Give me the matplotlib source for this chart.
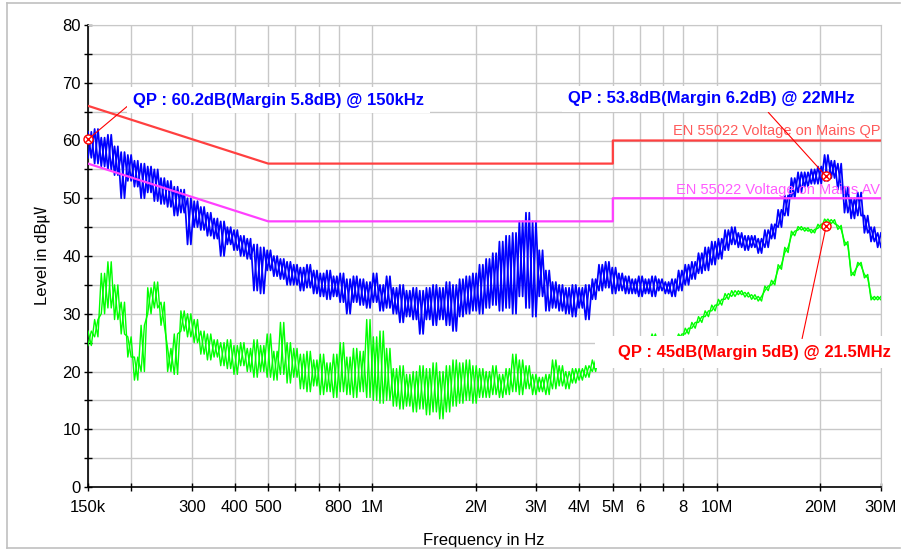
"""Conducted emission scan vs EN 55022 mains limits"""
import numpy as np
import matplotlib
matplotlib.use('Agg')
import matplotlib.pyplot as plt
from matplotlib.lines import Line2D
from matplotlib.patches import Rectangle

plt.rcParams['font.family'] = ['Liberation Sans', 'Noto Sans CJK KR']

# limit lines (EN 55022 class B, mains)
limit_freq = [0.15e6, 0.5e6, 5e6, 5e6, 30e6]
limit_qp = [66, 56, 56, 60, 60]
limit_av = [56, 46, 46, 50, 50]

# measured traces, upper / lower edge of the noise band read per slot
# (120 slots evenly spaced in log f from 150 kHz to 30 MHz)
qp_hi = [61.5, 62, 60.5, 61, 59, 58, 57.5, 56.5, 56, 55.5,
         55, 53.5, 53, 52, 51.5, 50, 49.5, 48.5, 47.5, 46.5,
         46, 45, 44.5, 43.5, 43, 42, 41.5, 41, 40, 39.5,
         39, 38.5, 38, 38.5, 37.5, 37, 37.5, 36.5, 37, 36,
         36.5, 36, 35.5, 37, 35, 36.5, 34.5, 35, 34, 34.5,
         34, 34.5, 35, 34.5, 35.5, 35, 36, 36.5, 37, 38.5,
         39.5, 40.5, 42.5, 43.5, 44, 46, 47.5, 46, 41, 37.5,
         35.5, 35, 34.5, 35, 34.5, 35, 36, 38.5, 39, 38,
         37, 36.5, 36, 36.5, 36, 36.5, 36, 35.5, 36, 37.5,
         38.5, 39, 40.5, 41.5, 42.5, 43, 44.5, 45, 44, 43.5,
         43.5, 43, 44.5, 45.5, 48, 50.5, 53.5, 54.5, 54.5, 55,
         55.5, 57.5, 56.5, 56, 52, 50, 51, 47, 45, 44]
qp_lo = [57, 56, 55.5, 55, 54, 50, 53, 52, 50, 51,
         49.5, 49, 48.5, 47, 47.5, 42, 45, 44.5, 43.5, 43,
         40, 42, 41, 40, 39.5, 34, 33.5, 37.5, 36.5, 36,
         35, 35, 34, 34.5, 33.5, 33, 32.5, 33, 32, 30,
         32, 31.5, 31, 32, 30.5, 31, 30, 28.5, 29.5, 29,
         26.5, 29, 28, 29, 28, 27, 29.5, 30, 30.5, 30,
         31, 31.5, 30.5, 31, 30, 33, 31, 29.5, 33, 30.5,
         31, 30.5, 30, 29.5, 31, 29, 32.5, 34, 34.5, 33.5,
         34, 33.5, 33.5, 33, 33.5, 33, 34, 33.5, 33, 34,
         35, 36, 37, 37.5, 38.5, 39.5, 41, 42, 41.5, 41,
         41.5, 40.5, 41.5, 43, 45, 47, 50, 51, 52, 52.5,
         52.5, 53, 53.5, 51.5, 47.5, 46.5, 47, 44, 42.5, 41.5]

av_hi = [27, 29, 37, 39, 35, 32, 26, 22.5, 28, 34.5,
         35.5, 32, 24, 26.5, 30.5, 30, 29, 27, 26.5, 25.5,
         25, 25.5, 24.5, 25, 24, 25.5, 24.5, 26.5, 23.5, 28.5,
         25, 24, 23, 23.5, 22, 23, 21.5, 23, 25, 22.5,
         24, 23.5, 29, 26, 27, 24, 20.5, 21, 19.5, 20,
         21, 20.5, 21.5, 20, 21, 22, 21.5, 22, 21, 20.5,
         20, 21, 19.5, 20.5, 23, 22, 21, 19.5, 19, 19.5,
         22, 21, 20, 20.5, 20.5, 21, 22, 23, 24, 24.5,
         25, 25.5, 25.5, 26, 26, 26.5, 26, 26, 26, 26.5,
         27.5, 28.5, 29.5, 30.5, 31.5, 32.5, 33.5, 34, 34, 33.7,
         33.3, 33, 34.8, 35.8, 38.5, 41.5, 44.3, 45.1, 44.9, 44.6,
         45.5, 46.4, 46.3, 45.3, 42.5, 37.3, 38.9, 36.8, 33, 33]
av_lo = [24.5, 26, 30, 31, 29, 26.5, 22.5, 18.5, 20, 30,
         31, 28, 20, 19.5, 27, 26, 25, 23, 22, 22.5,
         21, 20.5, 19.5, 21, 20, 19, 20, 19, 18.5, 19.5,
         18, 19, 17, 16.5, 17.5, 16, 16.5, 15.5, 16.5, 16,
         15.5, 16.5, 15.5, 15, 14.5, 15, 14, 13.5, 14, 13,
         13.5, 12.5, 13, 11.8, 13, 14, 14.5, 15, 14.5, 15.5,
         15.5, 16, 15.5, 16, 16.5, 16, 17, 16, 16.5, 16,
         17, 17.5, 17, 18, 18.5, 19, 20, 21, 22, 22.5,
         23, 23.5, 24, 24.5, 24.5, 25, 24.5, 25, 25, 25.5,
         26.5, 27.5, 28.5, 29.5, 30.5, 31.5, 32.5, 33, 33.3, 32.9,
         32.5, 32.2, 34, 35, 37.7, 40.6, 43.5, 44.5, 44.3, 44,
         44.8, 45.7, 45.6, 44.6, 41.8, 36.6, 38.3, 36.2, 32.4, 32.4]

# marker readings (frequency, level)
mk_qp_start = (0.15e6, 60.2)
mk_qp_peak = (20.8e6, 53.8)
mk_av_peak = (20.8e6, 45.2)

x_ticks = [150e3, 200e3, 300e3, 400e3, 500e3, 600e3, 700e3, 800e3, 1e6,
           2e6, 3e6, 4e6, 5e6, 6e6, 7e6, 8e6, 10e6, 20e6, 30e6]
x_labels = ['150k', '', '300', '400', '500', '', '', '800', '1M',
            '2M', '3M', '4M', '5M', '6', '', '8', '10M', '20M', '30M']

W, H = 902, 552


def zigzag(hi, lo):
    """two interleaved passes through the band edges"""
    a = np.ravel(np.column_stack([hi, lo]))
    b = np.ravel(np.column_stack([lo, hi]))
    return a, b


def main():
    fig = plt.figure(figsize=(W / 100, H / 100), dpi=100, facecolor='white')
    ax = fig.add_axes([88 / W, 1 - 487 / H, 793 / W, 462 / H])

    ax.set_xscale('log')
    ax.set_xlim(150e3, 30e6)
    ax.set_ylim(0, 80)

    freq = np.geomspace(150e3, 30e6, 2 * len(qp_hi))
    qa, qb = zigzag(qp_hi, qp_lo)
    aa, ab = zigzag(av_hi, av_lo)
    ax.plot(freq, aa, color='#00ff00', lw=1.0, zorder=3)
    ax.plot(freq, ab, color='#00ff00', lw=1.0, zorder=3)
    ax.plot(freq, qa, color='#0000ff', lw=1.25, zorder=3)
    ax.plot(freq, qb, color='#0000ff', lw=1.25, zorder=3)

    ax.plot(limit_freq, limit_qp, color='#ff4040', lw=1.6, zorder=4)
    ax.plot(limit_freq, limit_av, color='#ff40ff', lw=1.6, zorder=4)

    ax.text(0.999, 61.6, 'EN 55022 Voltage on Mains QP', color='#ff5a5a',
            fontsize=10.5, ha='right', va='center', zorder=5,
            transform=ax.get_yaxis_transform())
    ax.text(0.999, 51.5, 'EN 55022 Voltage on Mains AV', color='#ff5aff',
            fontsize=10.5, ha='right', va='center', zorder=5,
            transform=ax.get_yaxis_transform())

    for f, v in (mk_qp_start, mk_qp_peak, mk_av_peak):
        ax.plot([f], [v], marker='o', ms=6.5, mfc='white', mec='#ff0000',
                mew=1.0, zorder=6, clip_on=False)
        ax.plot([f], [v], marker='x', ms=4, mec='#ff0000', mew=1.0,
                zorder=7, clip_on=False)

    box = dict(boxstyle='square,pad=0.35', fc='white', ec='none')
    line = dict(arrowstyle='-', color='#ff0000', lw=0.8, shrinkA=0,
                shrinkB=3)
    ax.annotate('QP : 60.2dB(Margin 5.8dB) @ 150kHz', xy=mk_qp_start,
                xytext=(133, H - 100), textcoords='figure pixels',
                ha='left', va='center', fontsize=12, fontweight='bold',
                color='#0000ff', bbox=box, zorder=8,
                arrowprops=dict(line, relpos=(0, 0.4)))
    ax.annotate('QP : 53.8dB(Margin 6.2dB) @ 22MHz', xy=mk_qp_peak,
                xytext=(568, H - 99), textcoords='figure pixels',
                ha='left', va='center', fontsize=12, fontweight='bold',
                color='#0000ff', bbox=dict(box, pad=0.5), zorder=8,
                arrowprops=dict(line, relpos=(0.68, 0)))
    # white panel behind the AV peak label, wider than the text itself
    ax.add_patch(Rectangle((595 / W, 1 - 368 / H), 307 / W, 32 / H,
                           transform=fig.transFigure, fc='white',
                           ec='none', zorder=7.5, clip_on=False))
    ax.annotate('QP : 45dB(Margin 5dB) @ 21.5MHz', xy=mk_av_peak,
                xytext=(618, H - 352), textcoords='figure pixels',
                ha='left', va='center', fontsize=12, fontweight='bold',
                color='#ff0000', bbox=dict(box, pad=0.5), zorder=8,
                arrowprops=dict(line, relpos=(0.67, 1)))

    # axes cosmetics
    ax.set_xticks(x_ticks)
    ax.set_xticklabels(x_labels)
    ax.xaxis.set_minor_locator(matplotlib.ticker.NullLocator())
    ax.set_yticks(np.arange(0, 81, 10))
    ax.set_yticks(np.arange(5, 80, 10), minor=True)
    ax.grid(True, which='both', color='#c8c8c8', lw=1.0, zorder=0)
    ax.set_axisbelow(True)
    ax.tick_params(which='both', direction='inout', length=6, width=1,
                   color='black', labelsize=12)
    ax.tick_params(axis='x', pad=6)
    ax.tick_params(axis='y', pad=2)
    for s in ('top', 'right'):
        ax.spines[s].set_color('#c8c8c8')
    for s in ('left', 'bottom'):
        ax.spines[s].set_linewidth(1.2)

    ax.set_xlabel('Frequency in Hz', fontsize=12)
    ax.xaxis.set_label_coords((484 - 88) / 793, (487 - 540) / 462)
    ax.xaxis.label.set_va('center')
    ax.set_ylabel('Level in dB\u33b6', fontsize=12)
    ax.yaxis.set_label_coords((42 - 88) / 793, (487 - 255) / 462)
    ax.yaxis.label.set_va('center')

    # outer frame of the report window
    for xs, ys in (((7, 7), (3, 548)), ((7, 900), (3, 3)),
                   ((7, 900), (548, 548))):
        fig.add_artist(Line2D([x / W for x in xs], [1 - y / H for y in ys],
                              color='#c0c0c0', lw=1.2))

    fig.savefig('out.png', dpi=100, facecolor='white')


if __name__ == '__main__':
    main()
